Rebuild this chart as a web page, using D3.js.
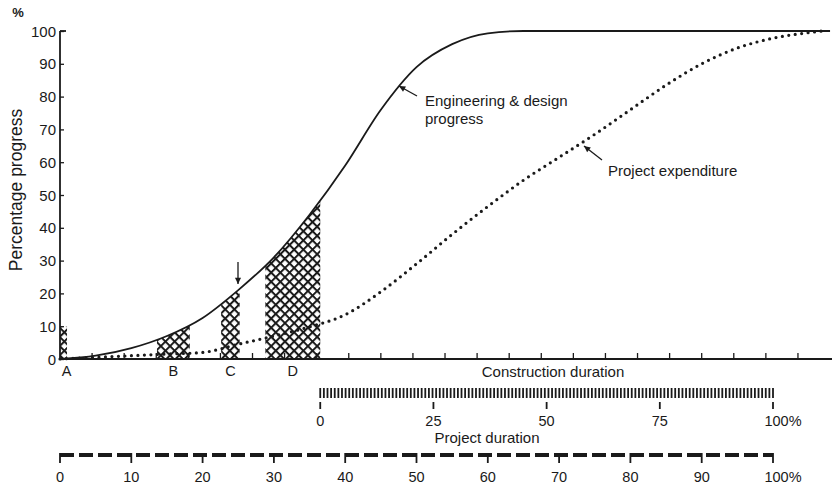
<!DOCTYPE html>
<html><head><meta charset="utf-8">
<script src="https://cdn.jsdelivr.net/npm/d3@7"></script>
<style>
body{margin:0;background:#fff;}
text{font-family:"Liberation Sans",Arial,sans-serif;fill:#1a1a1a;}
</style></head>
<body><svg id="c" width="832" height="489"></svg>
<script>
// ---- data (x = % of project duration) ----
const engX = [0, 5, 10, 15, 20, 25, 30, 35, 40, 45, 50, 55, 60, 65, 80, 100, 108];
const engY = [0, 1, 3.3, 7, 12.5, 21, 31, 44, 59, 76, 89, 96, 99.3, 100, 100, 100, 100];
const expX = [0, 5, 10, 15, 20, 25, 30, 35, 40, 45, 50, 55, 60, 65, 70, 75, 80, 85, 90, 95, 100, 105, 107];
const expY = [0, 0.5, 1, 1.5, 2, 4.5, 7, 9.8, 13.5, 20.5, 29, 38, 46.5, 54.5, 61.5, 68.5, 76, 83.5, 90, 94.8, 97.8, 99.5, 100];
const hatchLabels = ["A", "B", "C", "D"];
const hatchStart = [0, 13.6, 22.6, 28.8];
const hatchEnd = [1, 18.2, 25.2, 36.5];
const hatchTop = [10, null, null, null]; // null = up to engineering curve
const yTicks = [0, 10, 20, 30, 40, 50, 60, 70, 80, 90, 100];
const constructionTicks = [0, 25, 50, 75, 100];
const projectTicks = [0, 10, 20, 30, 40, 50, 60, 70, 80, 90, 100];
const constructionStart = 36.5; // % of project duration

const svg = d3.select("#c");
const x = d3.scaleLinear().domain([0, 100]).range([60, 773]);
const y = d3.scaleLinear().domain([0, 100]).range([359, 31]);
const xc = d3.scaleLinear().domain([0, 100]).range([x(constructionStart), x(100)]);
const ink = "#1a1a1a";

// pattern
const defs = svg.append("defs");
const pat = defs.append("pattern").attr("id", "hatch").attr("patternUnits", "userSpaceOnUse")
  .attr("width", 6.5).attr("height", 6.5).attr("patternTransform", "rotate(45)");
pat.append("line").attr("x1", 0).attr("y1", 1).attr("x2", 6.5).attr("y2", 1).attr("stroke", ink).attr("stroke-width", 2);
pat.append("line").attr("x1", 1).attr("y1", 0).attr("x2", 1).attr("y2", 6.5).attr("stroke", ink).attr("stroke-width", 2);

const engData = engX.map((d, i) => [d, engY[i]]);
const expData = expX.map((d, i) => [d, expY[i]]);
const curve = d3.curveMonotoneX;
const area = d3.area().x(d => x(d[0])).y0(y(0)).y1(d => y(d[1])).curve(curve);

hatchLabels.forEach((lab, i) => {
  const top = hatchTop[i] === null ? 100 : hatchTop[i];
  defs.append("clipPath").attr("id", "clip" + i).append("rect")
    .attr("x", x(hatchStart[i])).attr("width", x(hatchEnd[i]) - x(hatchStart[i]))
    .attr("y", y(top)).attr("height", y(0) - y(top));
  if (hatchTop[i] === null) {
    svg.append("path").attr("d", area(engData)).attr("fill", "url(#hatch)").attr("clip-path", `url(#clip${i})`);
  } else {
    svg.append("rect").attr("x", x(hatchStart[i])).attr("width", x(hatchEnd[i]) - x(hatchStart[i]))
      .attr("y", y(top)).attr("height", y(0) - y(top)).attr("fill", "url(#hatch)").attr("clip-path", `url(#clip${i})`);
  }
  svg.append("text").attr("x", x((hatchStart[i] + hatchEnd[i]) / 2) + (i === 0 ? 3 : 0)).attr("y", 376)
    .attr("text-anchor", "middle").attr("font-size", 14.5).text(lab);
});

// lines
const line = d3.line().x(d => x(d[0])).y(d => y(d[1])).curve(curve);
svg.append("path").attr("d", line(engData)).attr("fill", "none").attr("stroke", ink).attr("stroke-width", 1.8);
svg.append("path").attr("d", line(expData)).attr("fill", "none").attr("stroke", ink).attr("stroke-width", 3.2)
  .attr("stroke-dasharray", "0 6.5").attr("stroke-linecap", "round");

// y axis
const yAxis = d3.axisRight(y).tickValues(yTicks).tickSize(4).tickFormat("");
const gy = svg.append("g").attr("transform", "translate(60,0)").call(yAxis);
gy.select(".domain").remove();
gy.selectAll("line").attr("stroke", ink).attr("stroke-width", 1.3);
svg.append("line").attr("x1", 60).attr("x2", 60).attr("y1", y(0)).attr("y2", y(100)).attr("stroke", ink).attr("stroke-width", 1.8);
svg.append("line").attr("x1", 60).attr("x2", 66).attr("y1", y(100)).attr("y2", y(100)).attr("stroke", ink).attr("stroke-width", 1.8);
svg.selectAll(".ylab").data(yTicks).join("text").attr("class", "ylab")
  .attr("x", 56).attr("y", d => y(d) + 5.5).attr("text-anchor", "end").attr("font-size", 15).text(d => d);
svg.append("text").attr("x", 18).attr("y", 17).attr("text-anchor", "middle").attr("font-size", 13).attr("font-weight", "bold").text("%");
svg.append("text").attr("transform", "translate(22,190) rotate(-90)").attr("text-anchor", "middle")
  .attr("font-size", 17.5).text("Percentage progress");

// main x axis
svg.append("line").attr("x1", 60).attr("x2", 832).attr("y1", y(0)).attr("y2", y(0)).attr("stroke", ink).attr("stroke-width", 1.8);
const mainTicks = d3.range(4.5, 106, 4.5);
svg.selectAll(".mt").data(mainTicks).join("line").attr("class", "mt")
  .attr("x1", d => x(d)).attr("x2", d => x(d)).attr("y1", y(0)).attr("y2", y(0) - 6)
  .attr("stroke", ink).attr("stroke-width", 1.3);
svg.append("text").attr("x", 553).attr("y", 377).attr("text-anchor", "middle").attr("font-size", 15).text("Construction duration");

// annotations
function arrow(x1, y1, x2, y2) {
  svg.append("line").attr("x1", x1).attr("y1", y1).attr("x2", x2).attr("y2", y2).attr("stroke", ink).attr("stroke-width", 1.3);
  const a = Math.atan2(y2 - y1, x2 - x1), L = 7, w = 0.45;
  const p = [[x2, y2], [x2 - L * Math.cos(a - w), y2 - L * Math.sin(a - w)], [x2 - L * Math.cos(a + w), y2 - L * Math.sin(a + w)]];
  svg.append("path").attr("d", "M" + p.join("L") + "Z").attr("fill", ink);
}
arrow(417, 96, 399, 86);
arrow(602, 160, 584, 146);
arrow(238, 262, 238, 284);
svg.append("text").attr("x", 425).attr("y", 106).attr("font-size", 15).text("Engineering & design");
svg.append("text").attr("x", 425).attr("y", 124).attr("font-size", 15).text("progress");
svg.append("text").attr("x", 608).attr("y", 176).attr("font-size", 15).text("Project expenditure");

// construction duration scale
const fine = d3.range(0, 100.01, 0.8);
svg.selectAll(".ft").data(fine).join("line").attr("class", "ft")
  .attr("x1", d => xc(d)).attr("x2", d => xc(d)).attr("y1", 388).attr("y2", 398)
  .attr("stroke", ink).attr("stroke-width", 1.8);
svg.selectAll(".ct").data(constructionTicks).join("line").attr("class", "ct")
  .attr("x1", d => xc(d)).attr("x2", d => xc(d)).attr("y1", 402).attr("y2", 409)
  .attr("stroke", ink).attr("stroke-width", 1.8);
svg.selectAll(".cl").data(constructionTicks).join("text").attr("class", "cl")
  .attr("x", d => xc(d) + (d === 100 ? 10 : 0)).attr("y", 426).attr("text-anchor", "middle")
  .attr("font-size", 14.5).text(d => d === 100 ? "100%" : d);
svg.append("text").attr("x", 487).attr("y", 443).attr("text-anchor", "middle").attr("font-size", 15).text("Project duration");

// project duration scale
svg.append("line").attr("x1", x(0)).attr("x2", x(100)).attr("y1", 455).attr("y2", 455)
  .attr("stroke", ink).attr("stroke-width", 4).attr("stroke-dasharray", "14 5");
svg.selectAll(".pt").data(projectTicks).join("line").attr("class", "pt")
  .attr("x1", d => x(d)).attr("x2", d => x(d)).attr("y1", 453).attr("y2", 463)
  .attr("stroke", ink).attr("stroke-width", 1.8);
svg.selectAll(".pl").data(projectTicks).join("text").attr("class", "pl")
  .attr("x", d => x(d) + (d === 100 ? 10 : 0)).attr("y", 482).attr("text-anchor", "middle")
  .attr("font-size", 14.5).text(d => d === 100 ? "100%" : d);
</script></body></html>
